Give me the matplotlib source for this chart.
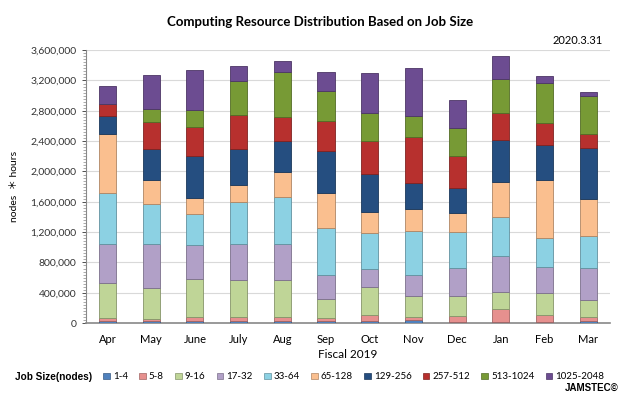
import numpy as np
from matplotlib import pyplot as plt
from matplotlib.ticker import FuncFormatter, MultipleLocator
from matplotlib.colors import to_rgb
from matplotlib.patches import Patch

plt.rcParams['font.family'] = ['Lato', 'DejaVu Sans']

months = ['Apr', 'May', 'June', 'July', 'Aug', 'Sep', 'Oct', 'Nov', 'Dec', 'Jan', 'Feb', 'Mar']
sizes = ['1-4', '5-8', '9-16', '17-32', '33-64', '65-128', '129-256', '257-512', '513-1024', '1025-2048']

# nodes * hours per job size class, one list per class
n1_4 = [30000, 30000, 30000, 30000, 30000, 30000, 30000, 35000, 20000, 20000, 20000, 30000]
n5_8 = [35000, 25000, 45000, 45000, 45000, 35000, 75000, 43000, 79000, 164000, 88000, 45000]
n9_16 = [461000, 409000, 505000, 496000, 488000, 255000, 373000, 277000, 260000, 232000, 286000, 228000]
n17_32 = [514000, 580000, 448000, 475000, 483000, 313000, 237000, 273000, 365000, 475000, 343000, 418000]
n33_64 = [672000, 533000, 413000, 554000, 620000, 620000, 475000, 593000, 483000, 514000, 382000, 426000]
n65_128 = [786000, 311000, 211000, 220000, 322000, 458000, 269000, 286000, 251000, 454000, 769000, 484000]
n129_256 = [233000, 405000, 550000, 471000, 413000, 554000, 514000, 347000, 322000, 558000, 462000, 673000]
n257_512 = [162000, 356000, 382000, 452000, 320000, 396000, 426000, 607000, 426000, 352000, 294000, 189000]
n513_1024 = [0, 171000, 224000, 448000, 593000, 400000, 373000, 273000, 365000, 452000, 527000, 505000]
n1025_2048 = [233000, 458000, 527000, 198000, 145000, 246000, 533000, 637000, 373000, 307000, 88000, 49000]

series = [n1_4, n5_8, n9_16, n17_32, n33_64, n65_128, n129_256, n257_512, n513_1024, n1025_2048]
colors = ['#4F81BD', '#E6908E', '#BFD597', '#B1A0C7', '#8CD1E3',
          '#FABF8F', '#254E80', '#B7302E', '#779A35', '#6C4C91']


def darker(c, f=0.7):
    r, g, b = to_rgb(c)
    return (r * f, g * f, b * f)


fig = plt.figure(figsize=(6.4, 3.95), dpi=100)
ax = fig.add_axes([0.134, 0.182, 0.819, 0.691])

x = np.arange(len(months))
bottom = np.zeros(len(months))
for vals, col in zip(series, colors):
    vals = np.array(vals, dtype=float)
    ax.bar(x, vals, width=0.39, bottom=bottom, color=col,
           edgecolor=darker(col), linewidth=0.6, zorder=3)
    bottom += vals

ax.set_xlim(-0.5, len(months) - 0.5)
ax.set_ylim(0, 3600000)
ax.yaxis.set_major_locator(MultipleLocator(400000))
ax.yaxis.set_minor_locator(MultipleLocator(40000))
ax.yaxis.set_major_formatter(FuncFormatter(lambda v, p: f'{int(v):,}'))
ax.grid(axis='y', color='#D9D9D9', linewidth=0.8, zorder=0)
ax.set_xticks(x)
ax.set_xticklabels(months, fontsize=8)
ax.tick_params(axis='y', labelsize=7.5, colors='#333333', length=3, width=0.6)
ax.tick_params(axis='y', which='minor', length=2, width=0.5, colors='#888888')
ax.tick_params(axis='x', length=0, pad=8)
for s in ['top', 'right']:
    ax.spines[s].set_visible(False)
ax.spines['left'].set_color('#888888')
ax.spines['bottom'].set_color('#888888')
ax.spines['bottom'].set_linewidth(1.2)

ax.set_ylabel('nodes  ＊ hours', fontsize=7.5, labelpad=8,
              family=['Lato', 'Noto Sans CJK JP', 'DejaVu Sans'])
ax.set_xlabel('Fiscal 2019', fontsize=8.5, labelpad=3)

fig.text(0.5, 0.944, 'Computing Resource Distribution Based on Job Size',
         ha='center', va='center', fontsize=9.5, fontweight='bold')
fig.text(0.942, 0.898, '2020.3.31', ha='right', va='center', fontsize=8)

handles = [Patch(facecolor=c, edgecolor=darker(c), linewidth=0.5) for c in colors]
fig.legend(handles, sizes, loc='center left', bbox_to_anchor=(0.155, 0.046),
           ncol=10, frameon=False, fontsize=7, handlelength=0.7, handleheight=0.7,
           handletextpad=0.3, columnspacing=1.15, borderaxespad=0)
fig.text(0.023, 0.046, 'Job Size(nodes)', ha='left', va='center', fontsize=7.2,
         fontweight='bold', family=['Liberation Sans', 'DejaVu Sans'])
fig.text(0.966, 0.018, 'JAMSTEC©', ha='right', va='center', fontsize=7,
         fontweight='bold', family=['Liberation Sans', 'DejaVu Sans'])

fig.savefig('out.png', dpi=100)
